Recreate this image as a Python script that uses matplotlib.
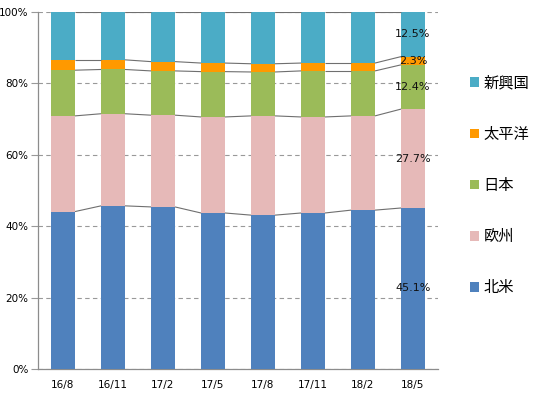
import matplotlib
matplotlib.use("Agg")
import matplotlib.pyplot as plt
import numpy as np

plt.rcParams['font.family'] = ['DejaVu Sans', 'Noto Sans CJK JP']

categories = ["16/8", "16/11", "17/2", "17/5", "17/8", "17/11", "18/2", "18/5"]
series_names = ["北米", "欧州", "日本", "太平洋", "新興国"]
north_america = [44.1, 45.7, 45.4, 43.7, 43.1, 43.7, 44.5, 45.1]
europe        = [26.8, 25.8, 25.7, 26.9, 27.8, 26.9, 26.4, 27.7]
japan         = [12.8, 12.4, 12.4, 12.7, 12.3, 12.9, 12.6, 12.4]
pacific       = [2.9, 2.7, 2.6, 2.4, 2.3, 2.2, 2.2, 2.3]
emerging      = [13.4, 13.4, 13.9, 14.3, 14.5, 14.3, 14.3, 12.5]
last_labels   = ["45.1%", "27.7%", "12.4%", "2.3%", "12.5%"]
yticks = [0, 20, 40, 60, 80, 100]

colors = ["#4F81BD", "#E6B9B8", "#9BBB59", "#FF9900", "#4BACC6"]
data = [north_america, europe, japan, pacific, emerging]

fig = plt.figure(figsize=(5.47, 3.97), dpi=100)
ax = fig.add_axes([38/547, 1-369/397, 400/547, 357/397])

x = np.arange(len(categories))
w = 0.48
bottom = np.zeros(len(categories))
handles = []
tops = []
for vals, c, name in zip(data, colors, series_names):
    v = np.array(vals, dtype=float)
    h = ax.bar(x, v, w, bottom=bottom, color=c, label=name, zorder=3)
    handles.append(h)
    bottom = bottom + v
    tops.append(bottom.copy())

# series lines
for t in tops:
    for i in range(len(categories) - 1):
        ax.plot([x[i] + w/2, x[i+1] - w/2], [t[i], t[i+1]], color="#6F6F6F",
                lw=0.8, zorder=4, solid_capstyle='butt')

# data labels on last bar
base = 0
for vals, lab in zip(data, last_labels):
    v = vals[-1]
    ax.text(x[-1], base + v/2, lab, ha='center', va='center', fontsize=8,
            color='#111111', zorder=5)
    base += v

ax.set_xlim(-0.5, len(categories) - 0.5)
ax.set_ylim(0, 100)
ax.set_yticks(yticks)
ax.set_yticklabels([f"{t}%" for t in yticks], fontsize=7.5)
ax.set_xticks(x)
ax.set_xticklabels(categories, fontsize=7.5)
ax.yaxis.grid(True, linestyle=(0, (4, 3)), color="#999999", lw=0.8, zorder=0)
ax.set_axisbelow(True)
for s in ['top', 'right']:
    ax.spines[s].set_visible(False)
for s in ['left', 'bottom']:
    ax.spines[s].set_color("#8C8C8C")
    ax.spines[s].set_linewidth(0.9)
ax.tick_params(axis='y', length=5, color="#999999", pad=2)
ax.tick_params(axis='x', length=0, pad=8)

leg = fig.legend(handles[::-1], series_names[::-1], loc='center left',
                 bbox_to_anchor=(470/547, 1-185.5/397), frameon=False,
                 fontsize=11, labelspacing=2.37, handlelength=0.6,
                 handleheight=0.6, handletextpad=0.3, borderpad=0, borderaxespad=0)

fig.savefig("out.png", dpi=100)
